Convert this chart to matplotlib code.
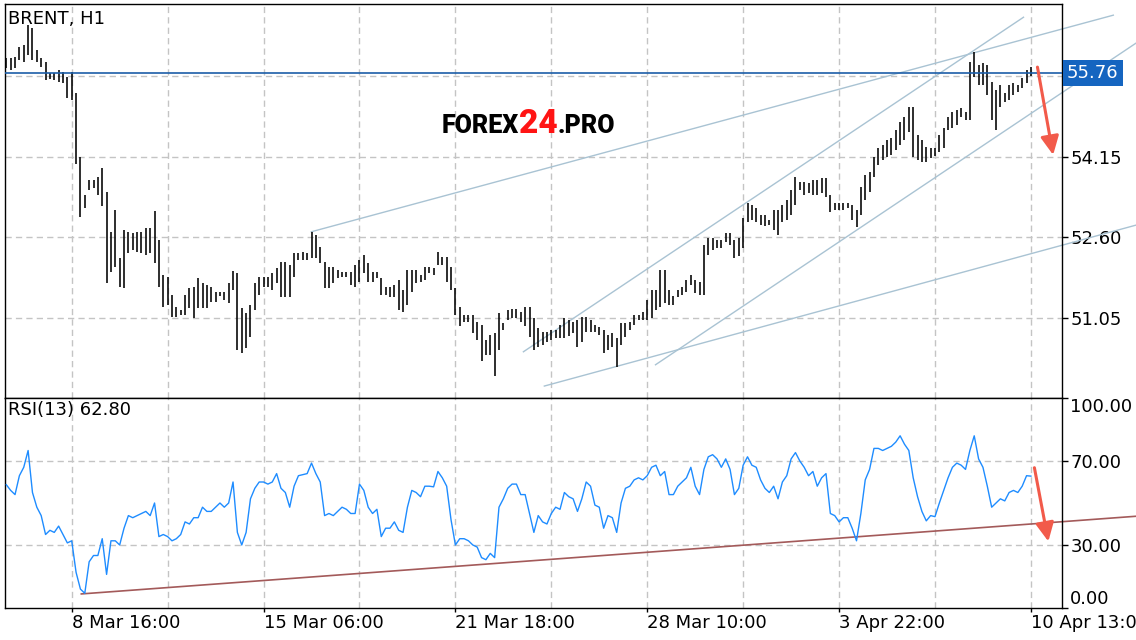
import numpy as np
import matplotlib
matplotlib.use('Agg')
import matplotlib.pyplot as plt
import matplotlib.transforms as mtransforms
from matplotlib.offsetbox import TextArea, HPacker, AnchoredOffsetbox
from matplotlib.patches import FancyArrowPatch

plt.rcParams['font.family'] = ['DejaVu Sans']

# ---------------- data ----------------
symbol_title = 'BRENT, H1'
rsi_title = 'RSI(13) 62.80'
last_price = 55.76
last_price_label = '55.76'

highs = [56.06,56.06,56.07,56.27,56.31,56.69,56.63,56.21,56.06,55.98,
         55.77,55.77,55.82,55.79,55.69,55.79,55.38,54.15,53.42,53.71,
         53.71,53.77,53.94,53.48,52.71,53.13,52.21,52.74,52.71,52.69,
         52.71,52.71,52.78,52.78,53.11,52.55,51.88,51.84,51.49,51.26,
         51.20,51.49,51.63,51.65,51.82,51.72,51.69,51.65,51.55,51.55,
         51.55,51.72,51.96,51.92,51.24,51.15,51.30,51.72,51.84,51.84,
         51.84,51.92,52.01,52.13,52.13,52.07,52.30,52.30,52.32,52.30,
         52.71,52.65,52.42,52.13,52.03,52.03,51.97,51.94,51.94,51.94,
         52.07,52.17,52.26,52.11,51.94,51.94,51.82,51.65,51.65,51.69,
         51.78,51.59,51.97,51.97,51.97,51.88,52.03,52.03,52.01,52.32,
         52.22,52.22,52.03,51.63,51.26,51.11,51.11,51.11,50.97,50.92,
         50.63,50.72,50.76,51.15,50.95,51.20,51.22,51.22,51.17,51.26,
         51.26,51.05,50.86,50.78,50.78,50.82,50.82,50.92,51.05,51.01,
         50.97,51.01,51.07,51.07,51.01,50.92,50.88,50.82,50.72,50.76,
         50.67,50.95,50.95,50.97,51.11,51.11,51.17,51.40,51.59,51.59,
         51.97,51.97,51.59,51.47,51.59,51.65,51.78,51.88,51.78,51.74,
         52.46,52.59,52.59,52.55,52.55,52.69,52.69,52.55,52.59,52.98,
         53.26,53.23,53.17,53.03,53.03,52.94,53.13,53.13,53.23,53.32,
         53.51,53.77,53.67,53.67,53.65,53.71,53.71,53.75,53.75,53.42,
         53.26,53.26,53.26,53.26,53.23,53.13,53.57,53.80,53.86,54.15,
         54.32,54.38,54.48,54.52,54.67,54.82,54.92,55.11,55.11,54.57,
         54.48,54.34,54.32,54.32,54.57,54.71,54.92,55.02,55.05,55.09,
         55.02,55.98,56.17,55.92,55.96,55.92,55.59,55.44,55.54,55.38,
         55.54,55.57,55.54,55.67,55.82,55.88]

lows = [55.86,55.82,55.86,56.02,55.98,56.11,56.02,55.98,55.88,55.63,
        55.65,55.63,55.59,55.57,55.29,55.25,54.02,53.00,53.17,53.51,
        53.55,53.42,53.21,51.72,51.94,52.03,51.65,51.63,52.30,52.36,
        52.32,52.30,52.26,52.30,52.11,51.65,51.26,51.30,51.07,51.07,
        51.11,51.11,51.24,51.05,51.24,51.24,51.24,51.36,51.36,51.47,
        51.40,51.34,51.59,50.43,50.38,50.47,50.69,51.20,51.49,51.65,
        51.65,51.59,51.72,51.45,51.45,51.45,51.84,52.17,52.17,52.17,
        52.21,52.21,52.11,51.63,51.63,51.72,51.82,51.84,51.84,51.69,
        51.65,51.74,51.92,51.74,51.74,51.82,51.49,51.49,51.45,51.45,
        51.20,51.17,51.30,51.55,51.72,51.74,51.78,51.92,51.88,52.07,
        52.07,51.74,51.59,51.11,50.90,50.97,50.97,50.76,50.63,50.22,
        50.34,50.34,49.93,50.43,50.82,51.01,51.05,51.05,50.97,50.90,
        50.69,50.43,50.49,50.53,50.59,50.63,50.67,50.67,50.67,50.70,
        50.76,50.49,50.59,50.78,50.78,50.78,50.72,50.38,50.43,50.49,
        50.11,50.53,50.69,50.82,50.92,51.01,51.01,51.01,51.05,51.20,
        51.26,51.34,51.30,51.30,51.45,51.49,51.55,51.69,51.53,51.49,
        51.49,52.26,52.36,52.40,52.40,52.51,52.46,52.21,52.24,52.40,
        52.90,52.94,52.90,52.84,52.82,52.84,52.74,52.65,52.90,52.94,
        53.03,53.23,53.51,53.42,53.46,53.42,53.42,53.46,53.38,53.09,
        53.13,53.13,53.13,53.17,52.94,52.80,53.03,53.32,53.48,53.77,
        54.00,54.09,54.15,54.19,54.28,54.38,54.48,54.63,54.15,54.09,
        54.05,54.05,54.13,54.17,54.25,54.32,54.67,54.71,54.77,54.92,
        54.86,54.86,55.69,55.54,55.54,55.34,54.86,54.67,55.11,55.21,
        55.25,55.34,55.40,55.48,55.57,55.71]

rsi = [58.7,56,54,63,67,75,55,48,44,35,
       37,36,39,35,31,32,17,9,7,22,
       25,25,33,16,32,32,30,38,44,43,
       44,45,46,44,50,34,35,34,32,33,
       35,41,40,43,43,48,46,46,48,50,
       48,50,60,36,30,36,52,57,60,60,
       59,60,64,57,55,48,58,63,63.5,64,
       69,64,60,44,45,44,46,48,47,45,
       45,59,56,48,45,47,34,38,38,41,
       37,36,48,56,55,53,58,58,57.7,65,
       62,58,42,30,33,33,32,30,29,24,
       23,26,24,48,52,57,59,59,54,54,
       45,36,44,41,40,45,48,47,55,53,
       52,46,52,60,58,49,48,38,44,43,
       36,50,57,58,61,62,61,63,67,68,
       63,65,54,54,58,60,62,67,58,54,
       66,72,73,71,67,71,66,54,57,68,
       72,68,67,61,57,55,58,52,60,63,
       71,74,70,67,63,65,58,62,64,45,
       44,41,43,43,38,32,45,61,66,76,
       76,75,76,77,79,82,78,75,62,53,
       46,41.5,44,43.5,50,56,62,67,69,68,
       66,75,82,71,67,58,48,50,52,51,
       55,56,55,58,63,62.8]

time_tick_pos = [15, 59, 103, 147, 191, 235]
time_tick_labels = ['8 Mar 16:00', '15 Mar 06:00', '21 Mar 18:00',
                    '28 Mar 10:00', '3 Apr 22:00', '10 Apr 13:00']
time_minor_pos = [37, 81, 125, 169, 213]
price_ticks = [51.05, 52.60, 54.15, 55.70]
price_tick_labels = ['51.05', '52.60', '54.15', '']
rsi_ticks = [0, 30, 70, 100]
rsi_tick_labels = ['0.00', '30.00', '70.00', '100.00']

# trend lines: (bar indices, values)
trend_upper_long = ([69.95, 253.9], [52.71, 56.88])
channel_upper = ([118.6, 233.3], [50.40, 56.84])
channel_lower = ([148.9, 260.5], [50.15, 56.42])
trend_lower_long = ([123.4, 260.5], [49.74, 52.87])
rsi_trend = ([17.2, 260.5], [6.7, 43.9])
arrow_price = ([236.5, 240.1], [55.88, 54.19])
arrow_rsi = ([235.8, 239.0], [66.8, 31.7])

# ---------------- figure ----------------
W, H = 1136, 640
fig = plt.figure(figsize=(W / 100, H / 100), dpi=100)
ax1 = fig.add_axes([5 / W, 1 - 398 / H, (1062 - 5) / W, (398 - 4) / H])
ax2 = fig.add_axes([5 / W, 1 - 608 / H, (1062 - 5) / W, (608 - 398) / H], sharex=ax1)

idx = np.arange(len(highs))
grid_kw = dict(color='#c4c4c4', linewidth=1.0, linestyle=(0, (4.5, 3)))

# main panel
ax1.vlines(idx, lows, highs, colors='black', linewidth=1.15, zorder=3)
ax1.axhline(last_price, color='#1c5ea8', linewidth=1.2, zorder=4)
line_col = '#a9c3d3'
for xs, ys in [trend_upper_long, channel_upper, channel_lower, trend_lower_long]:
    ax1.plot(xs, ys, color=line_col, linewidth=1.0, clip_on=False, zorder=2)

ax1.set_xlim(-0.3, 242.13)
ax1.set_ylim(49.51, 57.095)
ax1.yaxis.tick_right()
ax1.set_yticks(price_ticks, labels=price_tick_labels)
ax1.tick_params(axis='y', which='both', direction='out', length=4, width=1,
                pad=2, labelsize=13, colors='black')
ax1.tick_params(axis='x', which='both', length=0, labelbottom=False)
ax1.grid(True, axis='y', which='major', **grid_kw)
ax1.grid(True, axis='x', which='both', **grid_kw)
ax1.set_axisbelow(True)

trans = mtransforms.blended_transform_factory(ax1.transAxes, ax1.transData)
ax1.text(1 + 5 / 1057, last_price, last_price_label, transform=trans,
         ha='left', va='center', color='white', fontsize=13, zorder=10,
         clip_on=False,
         bbox=dict(boxstyle='square,pad=0.22', fc='#1565c0', ec='none'))

arrow_col = '#f25a4a'
for (xs, ys), ax in [(arrow_price, ax1), (arrow_rsi, ax2)]:
    arr = FancyArrowPatch((xs[0], ys[0]), (xs[1], ys[1]),
                          arrowstyle='-|>,head_length=0.45,head_width=0.22',
                          mutation_scale=25, color=arrow_col, linewidth=2.2,
                          shrinkA=0, shrinkB=0, clip_on=False, zorder=6)
    ax.add_patch(arr)

# watermark
wm_props = dict(fontweight='black', family=['Roboto', 'DejaVu Sans'])
ta1 = TextArea('FOREX', textprops=dict(color='black', fontsize=18, **wm_props))
ta2 = TextArea('24', textprops=dict(color='#ff1414', fontsize=24, **wm_props))
ta3 = TextArea('.PRO', textprops=dict(color='black', fontsize=18, **wm_props))
packer = HPacker(children=[ta1, ta2, ta3], align='baseline', pad=0, sep=0)
anch = AnchoredOffsetbox(loc='center', child=packer, pad=0, frameon=False,
                         bbox_to_anchor=(0.495, 0.695),
                         bbox_transform=ax1.transAxes, borderpad=0)
ax1.add_artist(anch)

# RSI panel
ax2.plot(idx, rsi, color='#1e8cff', linewidth=1.0, zorder=3)
ax2.plot(rsi_trend[0], rsi_trend[1], color='#a35a5a', linewidth=1.2,
         clip_on=False, zorder=2)
ax2.set_ylim(0, 100)
ax2.yaxis.tick_right()
ax2.set_yticks(rsi_ticks, labels=rsi_tick_labels)
ax2.tick_params(axis='y', direction='out', length=4, width=1, pad=2,
                labelsize=13)
ylabels = ax2.get_yticklabels()
ylabels[0].set_va('bottom')
ylabels[-1].set_va('top')
ax2.set_xticks(time_tick_pos, labels=time_tick_labels, ha='left')
ax2.set_xticks(time_minor_pos, minor=True)
ax2.tick_params(axis='x', which='major', direction='out', length=3, width=1,
                pad=1, labelsize=13)
ax2.tick_params(axis='x', which='minor', length=0)
for yv in [30, 70]:
    ax2.axhline(yv, zorder=0, **grid_kw)
ax2.grid(True, axis='x', which='both', **grid_kw)
ax2.set_axisbelow(True)

for ax in (ax1, ax2):
    for sp in ax.spines.values():
        sp.set_color('black')
        sp.set_linewidth(1.0)

fig.text(8 / W, 1 - 19 / H, symbol_title, fontsize=13, ha='left', va='center')
fig.text(8 / W, 1 - 410 / H, rsi_title, fontsize=13, ha='left', va='center')

fig.savefig('out.png', dpi=100, facecolor='white')
